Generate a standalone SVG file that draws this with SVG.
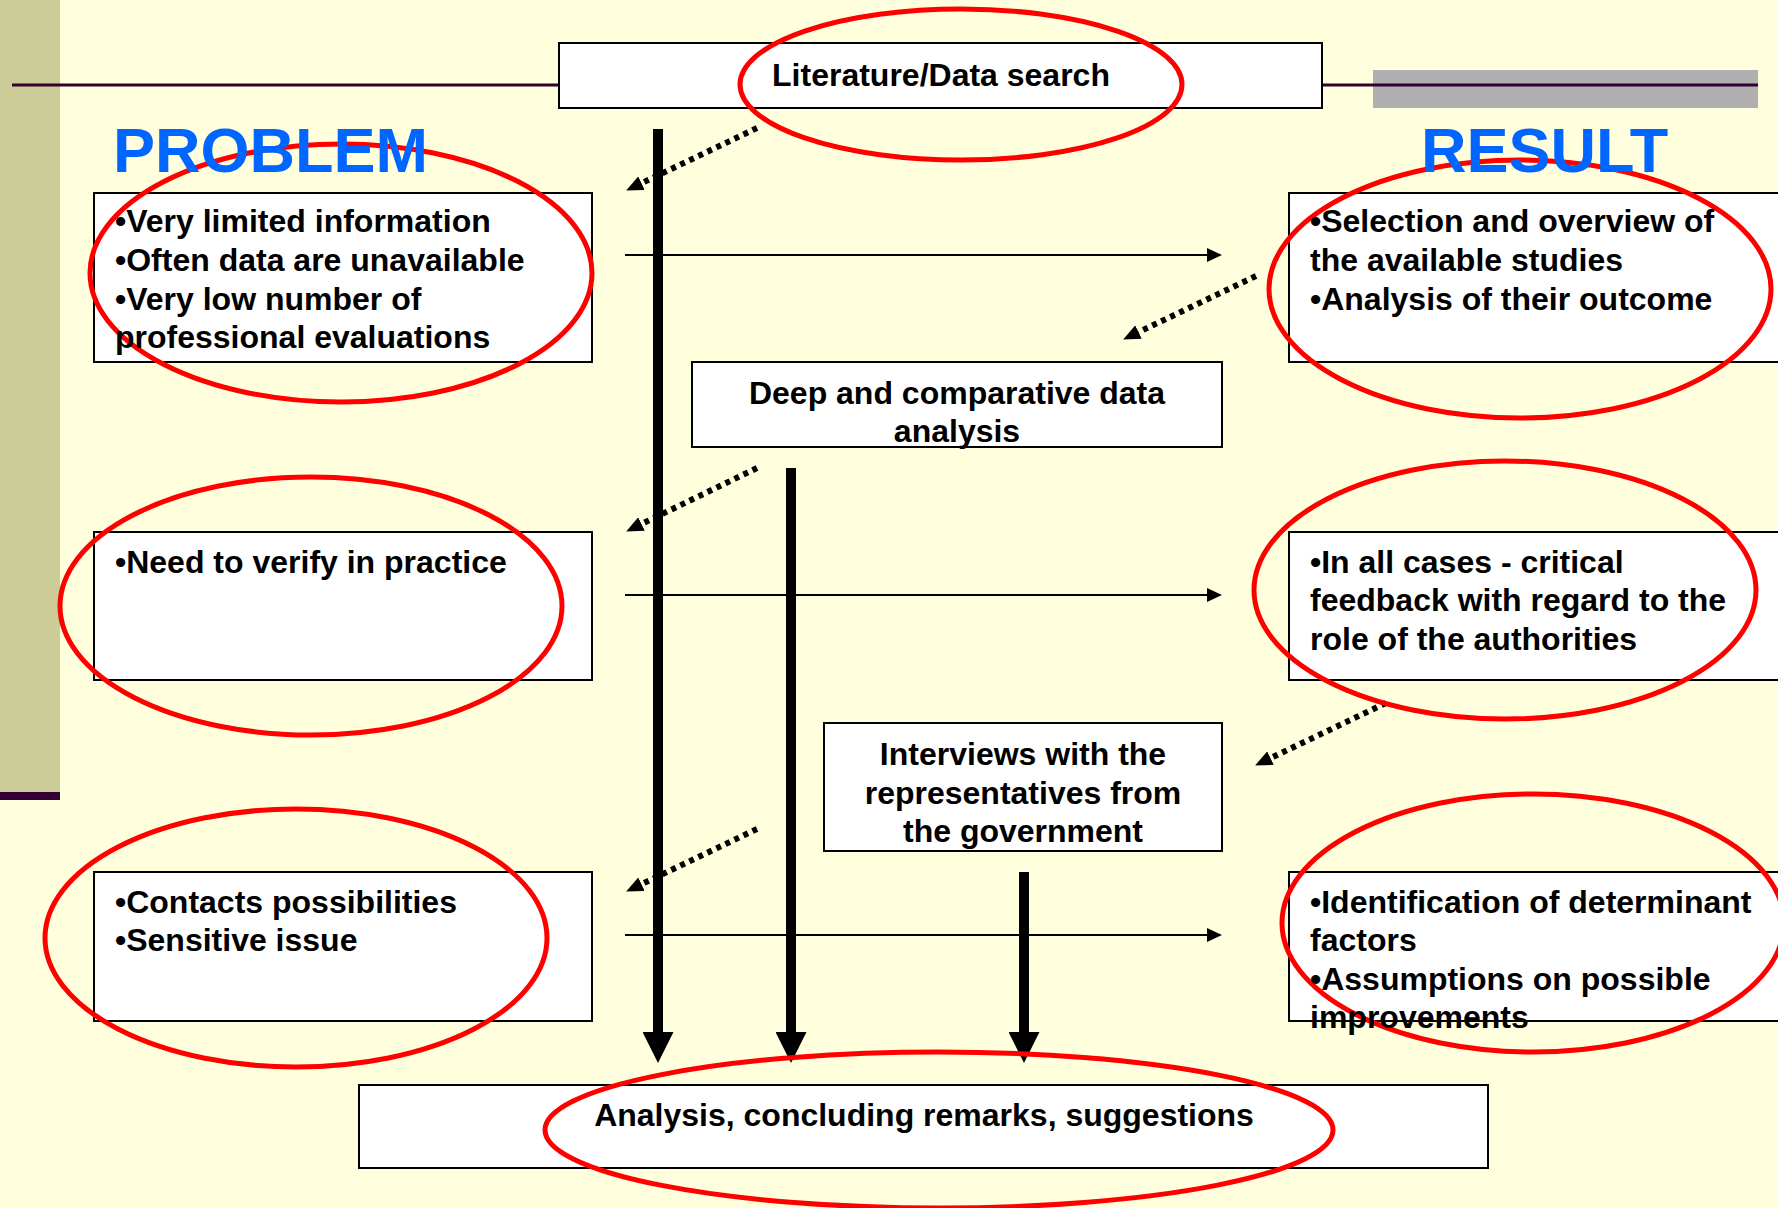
<svg xmlns="http://www.w3.org/2000/svg" width="1778" height="1208" viewBox="0 0 1778 1208">
<style>
.box{fill:#FFFFFF;stroke:#000000;stroke-width:2}
.t{font-family:"Liberation Sans",Arial,sans-serif;font-weight:bold;font-size:32px;fill:#000000}
.c{text-anchor:middle}
.head{font-family:"Liberation Sans",Arial,sans-serif;font-weight:bold;font-size:63px;fill:#0066FF}
.ring{fill:none;stroke:#FF0000;stroke-width:5}
.thin{stroke:#000000;stroke-width:2;fill:none;marker-end:url(#ah)}
.thick{stroke:#000000;stroke-width:10;fill:none;marker-end:url(#big)}
.dot{stroke:#000000;stroke-width:6;stroke-dasharray:5 5;fill:none;marker-end:url(#dh)}
</style>
<defs>
<marker id="ah" markerUnits="userSpaceOnUse" markerWidth="15" markerHeight="14" refX="0" refY="7" orient="auto"><path d="M0,0 L15,7 L0,14 z" fill="#000"/></marker>
<marker id="big" markerUnits="userSpaceOnUse" markerWidth="31" markerHeight="31" refX="0" refY="15.5" orient="auto"><path d="M0,0 L31,15.5 L0,31 z" fill="#000"/></marker>
<marker id="dh" markerUnits="userSpaceOnUse" markerWidth="17" markerHeight="15" refX="0" refY="7.5" orient="auto"><path d="M0,0 L17,7.5 L0,15 z" fill="#000"/></marker>
</defs>
<rect x="0" y="0" width="1778" height="1208" fill="#FFFFDD"/>
<rect x="0" y="0" width="60" height="792" fill="#CCCC99"/>
<rect x="0" y="792" width="60" height="8" fill="#330033"/>
<rect x="1373" y="70" width="385" height="38" fill="#B0B0B0"/>
<line x1="12" y1="85" x2="559" y2="85" stroke="#330033" stroke-width="3"/>
<line x1="1322" y1="85" x2="1758" y2="85" stroke="#330033" stroke-width="3"/>

<g id="connectors">
<line class="thin" x1="625" y1="255" x2="1207" y2="255"/>
<line class="thin" x1="625" y1="595" x2="1207" y2="595"/>
<line class="thin" x1="625" y1="935" x2="1207" y2="935"/>
<line class="thick" x1="658" y1="129" x2="658" y2="1032"/>
<line class="thick" x1="791" y1="468" x2="791" y2="1032"/>
<line class="thick" x1="1024" y1="872" x2="1024" y2="1032"/>
<line class="dot" x1="757" y1="128" x2="641.5" y2="183.2"/>
<line class="dot" x1="1256" y1="276" x2="1138.5" y2="332.1"/>
<line class="dot" x1="757" y1="468" x2="641.5" y2="524.0"/>
<line class="dot" x1="1386" y1="703" x2="1270.5" y2="758.1"/>
<line class="dot" x1="757" y1="829" x2="641.5" y2="884.2"/>
</g>

<g id="literature">
<rect class="box" x="559" y="43" width="763" height="65"/>
</g>
<g id="problem1">
<rect class="box" x="94" y="193" width="498" height="169"/>
</g>
<g id="problem2">
<rect class="box" x="94" y="532" width="498" height="148"/>
</g>
<g id="problem3">
<rect class="box" x="94" y="872" width="498" height="149"/>
</g>
<g id="result1">
<rect class="box" x="1289" y="193" width="520" height="169"/>
</g>
<g id="result2">
<rect class="box" x="1289" y="532" width="520" height="148"/>
</g>
<g id="result3">
<rect class="box" x="1289" y="872" width="520" height="149"/>
</g>
<g id="deep">
<rect class="box" x="692" y="362" width="530" height="85"/>
</g>
<g id="interviews">
<rect class="box" x="824" y="723" width="398" height="128"/>
</g>
<g id="final">
<rect class="box" x="359" y="1085" width="1129" height="83"/>
</g>

<g id="highlights">
<ellipse class="ring" cx="961" cy="84.5" rx="221" ry="75.5"/>
<ellipse class="ring" cx="341" cy="273" rx="251" ry="129"/>
<ellipse class="ring" cx="311" cy="606" rx="251" ry="129"/>
<ellipse class="ring" cx="296" cy="938" rx="251" ry="129"/>
<ellipse class="ring" cx="1520" cy="289" rx="251" ry="129"/>
<ellipse class="ring" cx="1505" cy="590" rx="251" ry="129"/>
<ellipse class="ring" cx="1533" cy="923" rx="251" ry="129"/>
<ellipse class="ring" cx="939" cy="1130" rx="394" ry="78"/>
</g>

<g id="labels">
<text class="head" x="113" y="172">PROBLEM</text>
<text class="head" x="1421" y="172">RESULT</text>
<text class="t c" x="941" y="86">Literature/Data search</text>
<text class="t" x="115" y="232">•Very limited information</text>
<text class="t" x="115" y="271">•Often data are unavailable</text>
<text class="t" x="115" y="310">•Very low number of</text>
<text class="t" x="115" y="348">professional evaluations</text>
<text class="t" x="115" y="573">•Need to verify in practice</text>
<text class="t" x="115" y="913">•Contacts possibilities</text>
<text class="t" x="115" y="951">•Sensitive issue</text>
<text class="t" x="1310" y="232">•Selection and overview of</text>
<text class="t" x="1310" y="271">the available studies</text>
<text class="t" x="1310" y="310">•Analysis of their outcome</text>
<text class="t" x="1310" y="573">•In all cases - critical</text>
<text class="t" x="1310" y="611">feedback with regard to the</text>
<text class="t" x="1310" y="650">role of the authorities</text>
<text class="t" x="1310" y="913">•Identification of determinant</text>
<text class="t" x="1310" y="951">factors</text>
<text class="t" x="1310" y="990">•Assumptions on possible</text>
<text class="t" x="1310" y="1028">improvements</text>
<text class="t c" x="957" y="404">Deep and comparative data</text>
<text class="t c" x="957" y="442">analysis</text>
<text class="t c" x="1023" y="765">Interviews with the</text>
<text class="t c" x="1023" y="804">representatives from</text>
<text class="t c" x="1023" y="842">the government</text>
<text class="t c" x="924" y="1126">Analysis, concluding remarks, suggestions</text>
</g>
</svg>
